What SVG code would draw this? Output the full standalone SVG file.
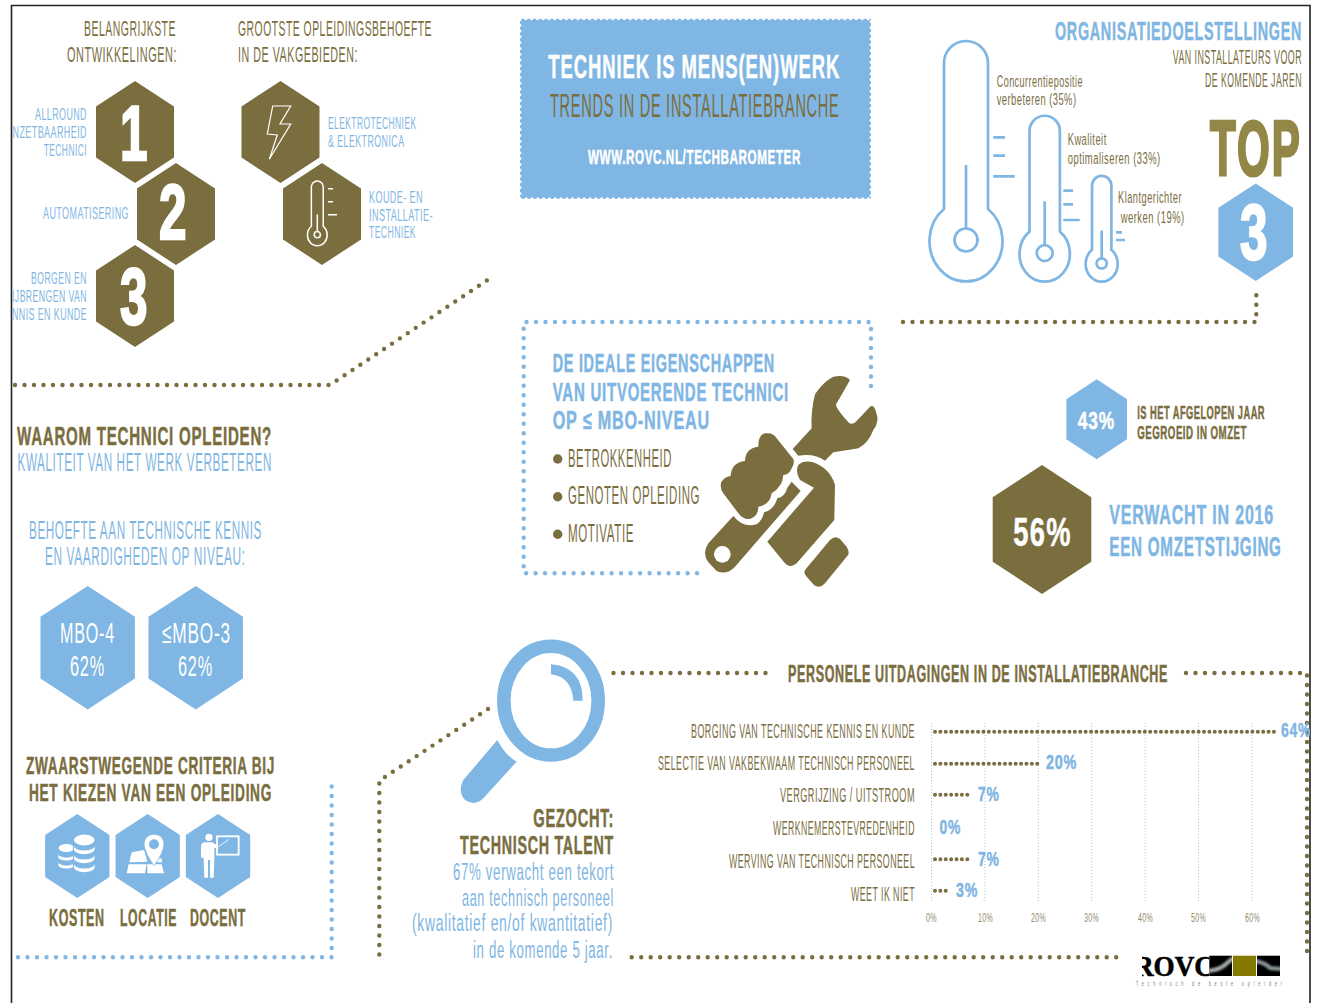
<svg xmlns="http://www.w3.org/2000/svg" width="1321" height="1003" viewBox="0 0 1321 1003">
<style>
text{font-family:"Liberation Sans",Arial,sans-serif;white-space:pre;letter-spacing:.05em}
.b{font-weight:700}
.br{fill:#7a6e3f}.bl{fill:#7fb6e3}.w{fill:#fff}
.br.b{stroke:#7a6e3f;stroke-width:.5}.bl.b{stroke:#7fb6e3;stroke-width:.5}.w.b{stroke:#fff;stroke-width:.5}
.dg{stroke-width:2.4!important}
.hb{fill:#7a6e3f}.hl{fill:#7fb6e3}
.dots{fill:none;stroke-linecap:round;stroke-width:4.4;stroke-dasharray:0 9.5}
.dbr{stroke:#7a6e3f}.dbl{stroke:#7fb6e3}
.bar{fill:none;stroke:#7a6e3f;stroke-width:4;stroke-linecap:round;stroke-dasharray:0 5.38}
.grid{stroke:#9cc8ea;stroke-width:1;stroke-dasharray:1 2;fill:none}
#therm *{vector-effect:non-scaling-stroke}
.th{fill:none;stroke:#7fb6e3;stroke-width:2.7}
.thw{fill:none;stroke:#fff;stroke-width:1.5}
.tk{stroke:#7fb6e3;stroke-width:2.7}
.tkw{stroke:#fff;stroke-width:1.5}
</style>
<defs>
<polygon id="hx" points="0,-51 39,-25.5 39,25.5 0,51 -39,25.5 -39,-25.5"/>
<g id="therm">
<path d="M-22,-36V-182A22,22 0 0 1 22,-182V-36A36.5,40.3 0 1 1 -22,-36Z"/>
<circle cx="0" cy="-5" r="11.5"/>
<path d="M0,-17V-80"/>
</g>
<path id="coin" d="M-10.3,0v3.6a10.3,4.6 0 0 0 20.6,0v-3.6a10.3,4.6 0 0 1 -20.6,0z" fill="#fff"/>
<filter id="blur" x="-20%" y="-50%" width="140%" height="200%"><feGaussianBlur stdDeviation="1"/></filter>
<clipPath id="logoclip"><rect x="1142" y="950" width="67" height="30"/></clipPath>
<clipPath id="lg1"><rect x="1209.3" y="955.7" width="22.7" height="20.3"/></clipPath>
<clipPath id="lg3"><rect x="1257" y="955.7" width="23" height="20.3"/></clipPath>
<clipPath id="frameclip"><rect x="11" y="0" width="1299" height="1003"/></clipPath>
</defs>
<rect width="1321" height="1003" fill="#fff"/>
<path id="frame" d="M11.5,1003V5.5H1310V1003" fill="none" stroke="#222" stroke-width="1.6"/>

<g id="connectors">
<path class="dots dbr" d="M15,385H330L489,279"/>
<path class="dots dbr" d="M903,322H1256.3V287"/>
<path class="dots dbl" d="M871,386V322H523.7V573.3H698"/>
<path class="dots dbl" d="M18,957.3H331.7V783"/>
<path class="dots dbr" d="M488,709L379.3,780.7V957.3"/>
<path class="dots dbr" d="M631.7,957.3H1118"/>
<path class="dots dbr" d="M613.5,673H773"/>
<path class="dots dbr" d="M1186,673H1307V957"/>
</g>

<g id="title-ontwikkelingen">
<text class="br" transform="matrix(.5 0 0 1 84 36)" font-size="22.3" textLength="184" lengthAdjust="spacingAndGlyphs">BELANGRIJKSTE</text>
<text class="br" transform="matrix(.5 0 0 1 67 62)" font-size="22.3" textLength="220" lengthAdjust="spacingAndGlyphs">ONTWIKKELINGEN:</text>
</g>
<g id="title-vakgebieden">
<text class="br" transform="matrix(.5 0 0 1 238 36)" font-size="22.3" textLength="388" lengthAdjust="spacingAndGlyphs">GROOTSTE OPLEIDINGSBEHOEFTE</text>
<text class="br" transform="matrix(.5 0 0 1 238 62)" font-size="22.3" textLength="240" lengthAdjust="spacingAndGlyphs">IN DE VAKGEBIEDEN:</text>
</g>

<g id="node-1">
<use href="#hx" class="hb" transform="translate(135,132)"/>
<text class="w b dg" transform="matrix(.5 0 0 1 120 160)" font-size="78" textLength="60" lengthAdjust="spacingAndGlyphs">1</text>
<text class="bl" transform="matrix(.5 0 0 1 35 120)" font-size="17" textLength="104" lengthAdjust="spacingAndGlyphs">ALLROUND</text>
<text class="bl" transform="matrix(.5 0 0 1 12.5 138)" font-size="17" textLength="149" lengthAdjust="spacingAndGlyphs">NZETBAARHEID</text>
<text class="bl" transform="matrix(.5 0 0 1 43.7 156)" font-size="17" textLength="86.6" lengthAdjust="spacingAndGlyphs">TECHNICI</text>
</g>
<g id="node-2">
<use href="#hx" class="hb" transform="translate(176,214)"/>
<text class="w b dg" transform="matrix(.5 0 0 1 159 239)" font-size="78" textLength="60" lengthAdjust="spacingAndGlyphs">2</text>
<text class="bl" transform="matrix(.5 0 0 1 43 219)" font-size="17" textLength="172" lengthAdjust="spacingAndGlyphs">AUTOMATISERING</text>
</g>
<g id="node-3">
<use href="#hx" class="hb" transform="translate(135,296)"/>
<text class="w b dg" transform="matrix(.5 0 0 1 120 324)" font-size="80" textLength="60" lengthAdjust="spacingAndGlyphs">3</text>
<text class="bl" transform="matrix(.5 0 0 1 31 284)" font-size="17" textLength="112" lengthAdjust="spacingAndGlyphs">BORGEN EN</text>
<text class="bl" transform="matrix(.5 0 0 1 12 302)" font-size="17" textLength="150" lengthAdjust="spacingAndGlyphs">IJBRENGEN VAN</text>
<text class="bl" transform="matrix(.5 0 0 1 12 320)" font-size="17" textLength="150" lengthAdjust="spacingAndGlyphs">NNIS EN KUNDE</text>
</g>
<g id="node-elektro">
<use href="#hx" class="hb" transform="translate(280.5,132)"/>
<polygon points="272.7,106 290.7,106 280,124 290.7,124 269.3,159.3 277.3,135 267.3,134" fill="none" stroke="#fff" stroke-width="1.2"/>
<text class="bl" transform="matrix(.5 0 0 1 328 129.4)" font-size="17" textLength="177" lengthAdjust="spacingAndGlyphs">ELEKTROTECHNIEK</text>
<text class="bl" transform="matrix(.5 0 0 1 328 147.4)" font-size="17" textLength="153" lengthAdjust="spacingAndGlyphs">&amp; ELEKTRONICA</text>
</g>
<g id="node-koude">
<use href="#hx" class="hb" transform="translate(322,214)"/>
<use href="#therm" class="thw" transform="translate(317.3,236) scale(.27)"/>
<path class="tkw" d="M328,188.7h5M328,201.7h5M328,214.7h9"/>
<text class="bl" transform="matrix(.5 0 0 1 369 202.8)" font-size="17" textLength="108" lengthAdjust="spacingAndGlyphs">KOUDE- EN</text>
<text class="bl" transform="matrix(.5 0 0 1 369 220.8)" font-size="17" textLength="128" lengthAdjust="spacingAndGlyphs">INSTALLATIE-</text>
<text class="bl" transform="matrix(.5 0 0 1 369 238.2)" font-size="17" textLength="94" lengthAdjust="spacingAndGlyphs">TECHNIEK</text>
</g>

<g id="node-banner">
<rect x="520" y="18.8" width="351" height="180" fill="#7fb6e3"/>
<rect x="520" y="18.8" width="351" height="180" fill="none" stroke="#fff" stroke-width="3" stroke-linecap="round" stroke-dasharray="0 5.8"/>
<text class="w b" transform="matrix(.5 0 0 1 548.3 78)" font-size="32.5" textLength="584" lengthAdjust="spacingAndGlyphs">TECHNIEK IS MENS(EN)WERK</text>
<text class="br" transform="matrix(.5 0 0 1 550 117)" font-size="33" textLength="579" lengthAdjust="spacingAndGlyphs">TRENDS IN DE INSTALLATIEBRANCHE</text>
<text class="w b" transform="matrix(.5 0 0 1 588 164)" font-size="20" textLength="426" lengthAdjust="spacingAndGlyphs">WWW.ROVC.NL/TECHBAROMETER</text>
</g>

<g id="node-doelstellingen">
<text class="bl b" transform="matrix(.5 0 0 1 1055 40)" font-size="26.5" textLength="494" lengthAdjust="spacingAndGlyphs">ORGANISATIEDOELSTELLINGEN</text>
<text class="br" transform="matrix(.5 0 0 1 1172.7 63.6)" font-size="20" textLength="258.6" lengthAdjust="spacingAndGlyphs">VAN INSTALLATEURS VOOR</text>
<text class="br" transform="matrix(.5 0 0 1 1205 87.2)" font-size="20" textLength="194" lengthAdjust="spacingAndGlyphs">DE KOMENDE JAREN</text>
<text class="b" fill="#938748" stroke="#938748" stroke-width="3" transform="matrix(.5 0 0 1 1210 174.5)" font-size="77" textLength="184" lengthAdjust="spacingAndGlyphs">TOP</text>
<use href="#hx" class="hl" transform="translate(1255.7,232.2) scale(.957)"/>
<text class="w b dg" transform="matrix(.5 0 0 1 1240 259)" font-size="77" textLength="60" lengthAdjust="spacingAndGlyphs">3</text>
</g>
<g id="node-thermo-1">
<use href="#therm" class="th" transform="translate(966,245)"/>
<path class="tk" d="M993.3,137.3H1005M993.3,155.7H1005M993.3,176.3H1014.7"/>
<text class="br" transform="matrix(.5 0 0 1 996.7 86.7)" font-size="17" textLength="172.6" lengthAdjust="spacingAndGlyphs">Concurrentiepositie</text>
<text class="br" transform="matrix(.5 0 0 1 996.7 105)" font-size="17" textLength="159.6" lengthAdjust="spacingAndGlyphs">verbeteren (35%)</text>
</g>
<g id="node-thermo-2">
<use href="#therm" class="th" transform="translate(1044.7,256.5) scale(.69)"/>
<path class="tk" d="M1063.3,190.7H1073M1063.3,204.3H1073M1063.3,220H1079.7"/>
<text class="br" transform="matrix(.5 0 0 1 1067.7 144.7)" font-size="17" textLength="78" lengthAdjust="spacingAndGlyphs">Kwaliteit</text>
<text class="br" transform="matrix(.5 0 0 1 1067.7 164)" font-size="17" textLength="186" lengthAdjust="spacingAndGlyphs">optimaliseren (33%)</text>
</g>
<g id="node-thermo-3">
<use href="#therm" class="th" transform="translate(1101.7,265.6) scale(.44)"/>
<path class="tk" d="M1116,232.3H1122M1116,240H1125"/>
<text class="br" transform="matrix(.5 0 0 1 1118 203)" font-size="17" textLength="128" lengthAdjust="spacingAndGlyphs">Klantgerichter</text>
<text class="br" transform="matrix(.5 0 0 1 1120.7 222.7)" font-size="17" textLength="128" lengthAdjust="spacingAndGlyphs">werken (19%)</text>
</g>

<g id="node-eigenschappen">
<text class="bl b" transform="matrix(.5 0 0 1 552.7 371.5)" font-size="25.6" textLength="444.6" lengthAdjust="spacingAndGlyphs">DE IDEALE EIGENSCHAPPEN</text>
<text class="bl b" transform="matrix(.5 0 0 1 552.7 400.5)" font-size="25.6" textLength="472.6" lengthAdjust="spacingAndGlyphs">VAN UITVOERENDE TECHNICI</text>
<text class="bl b" transform="matrix(.5 0 0 1 552.7 429)" font-size="25.6" textLength="314.6" lengthAdjust="spacingAndGlyphs">OP ≤ MBO-NIVEAU</text>
<circle class="hb" cx="557.7" cy="459" r="4.7"/><circle class="hb" cx="557.7" cy="496.7" r="4.7"/><circle class="hb" cx="557.7" cy="534.3" r="4.7"/>
<text class="br" transform="matrix(.5 0 0 1 568 466.7)" font-size="25" textLength="208" lengthAdjust="spacingAndGlyphs">BETROKKENHEID</text>
<text class="br" transform="matrix(.5 0 0 1 568 504.3)" font-size="25" textLength="264" lengthAdjust="spacingAndGlyphs">GENOTEN OPLEIDING</text>
<text class="br" transform="matrix(.5 0 0 1 568 542.3)" font-size="25" textLength="132" lengthAdjust="spacingAndGlyphs">MOTIVATIE</text>
</g>
<g id="node-wrench" transform="translate(690,365) scale(.3333)" fill="#7a6e3f">
<path d="M308,252L365,190Q362,140 375,88Q400,50 430,35Q465,28 480,45Q455,90 438,118Q438,132 478,175Q490,180 500,168L540,125Q552,118 558,140Q570,170 550,195Q535,235 505,250Q460,258 430,262L405,287Q375,265 325,272Z"/>
<path d="M130,453Q160,490 200,478Q218,465 222,442Q252,435 262,400Q285,395 292,368L305,350L332,378L135,605Q110,632 80,618L55,592Q35,565 55,535Z"/>
<circle cx="97" cy="568" r="25" fill="#fff"/>
<path d="M92,360Q92,340 122,332Q125,292 165,288Q165,250 205,245Q205,200 235,205Q250,205 260,220L310,282Q315,295 305,310Q298,330 280,330Q278,365 245,385Q240,420 205,425Q205,455 180,462Q160,465 145,445L100,385Q92,375 92,360Z"/>
<path d="M232,530L372,368L330,345Q315,320 325,300Q340,285 370,292Q420,310 435,360L433,465L320,595Q300,612 285,595Z"/>
<path d="M345,615L420,525Q435,510 450,522L470,545Q482,565 470,575L405,655Q390,672 372,660L350,635Q340,625 345,615Z"/>
</g>

<g id="node-43">
<use href="#hx" class="hl" transform="translate(1096.7,419.3) scale(.777,.784)"/>
<text class="w b" transform="matrix(.5 0 0 1 1077.7 429.3)" font-size="24.7" textLength="74.6" lengthAdjust="spacingAndGlyphs">43%</text>
<text class="br b" transform="matrix(.5 0 0 1 1137.3 419)" font-size="18" textLength="255.4" lengthAdjust="spacingAndGlyphs">IS HET AFGELOPEN JAAR</text>
<text class="br b" transform="matrix(.5 0 0 1 1137.3 439)" font-size="18" textLength="219.4" lengthAdjust="spacingAndGlyphs">GEGROEID IN OMZET</text>
</g>
<g id="node-56">
<use href="#hx" class="hb" transform="translate(1042,529.5) scale(1.264)"/>
<text class="w b" transform="matrix(.5 0 0 1 1013.3 545.7)" font-size="40" textLength="117.4" lengthAdjust="spacingAndGlyphs">56%</text>
<text class="bl b" transform="matrix(.5 0 0 1 1109.3 524.3)" font-size="27" textLength="329.4" lengthAdjust="spacingAndGlyphs">VERWACHT IN 2016</text>
<text class="bl b" transform="matrix(.5 0 0 1 1109.3 555.7)" font-size="27" textLength="344.8" lengthAdjust="spacingAndGlyphs">EEN OMZETSTIJGING</text>
</g>

<g id="node-waarom">
<text class="br b" transform="matrix(.5 0 0 1 17 445)" font-size="26.5" textLength="510" lengthAdjust="spacingAndGlyphs">WAAROM TECHNICI OPLEIDEN?</text>
<text class="bl" transform="matrix(.5 0 0 1 17.5 471)" font-size="26" textLength="509" lengthAdjust="spacingAndGlyphs">KWALITEIT VAN HET WERK VERBETEREN</text>
<text class="bl" transform="matrix(.5 0 0 1 29 539.4)" font-size="26" textLength="466" lengthAdjust="spacingAndGlyphs">BEHOEFTE AAN TECHNISCHE KENNIS</text>
<text class="bl" transform="matrix(.5 0 0 1 45 565)" font-size="26" textLength="401" lengthAdjust="spacingAndGlyphs">EN VAARDIGHEDEN OP NIVEAU:</text>
</g>
<g id="node-mbo4">
<use href="#hx" class="hl" transform="translate(87.7,647.7) scale(1.21)"/>
<text class="w" transform="matrix(.5 0 0 1 60 643)" font-size="29" textLength="110" lengthAdjust="spacingAndGlyphs">MBO-4</text>
<text class="w" transform="matrix(.5 0 0 1 70 676)" font-size="29" textLength="70" lengthAdjust="spacingAndGlyphs">62%</text>
</g>
<g id="node-mbo3">
<use href="#hx" class="hl" transform="translate(195.7,647.7) scale(1.21)"/>
<text class="w" transform="matrix(.5 0 0 1 162 643)" font-size="29" textLength="138" lengthAdjust="spacingAndGlyphs">≤MBO-3</text>
<text class="w" transform="matrix(.5 0 0 1 178 676)" font-size="29" textLength="70" lengthAdjust="spacingAndGlyphs">62%</text>
</g>

<g id="node-criteria">
<text class="br b" transform="matrix(.5 0 0 1 26 774.3)" font-size="24" textLength="498" lengthAdjust="spacingAndGlyphs">ZWAARSTWEGENDE CRITERIA BIJ</text>
<text class="br b" transform="matrix(.5 0 0 1 29 800.7)" font-size="24" textLength="486" lengthAdjust="spacingAndGlyphs">HET KIEZEN VAN EEN OPLEIDING</text>
</g>
<g id="node-kosten">
<use href="#hx" class="hl" transform="translate(77.3,856) scale(.825)"/>
<g transform="translate(66.5,0)">
<ellipse cx="0" cy="848" rx="8" ry="4" fill="#fff"/>
<use href="#coin" transform="translate(0,854) scale(.8)"/>
<use href="#coin" transform="translate(0,862) scale(.8)"/>
</g>
<g transform="translate(84.3,0)">
<ellipse cx="0" cy="840" rx="11.6" ry="6.4" fill="#7fb6e3"/>
<rect x="-11.4" y="840" width="22.8" height="36" fill="#7fb6e3"/>
<ellipse cx="0" cy="840" rx="10.3" ry="5.4" fill="#fff"/>
<use href="#coin" transform="translate(0,846)"/>
<use href="#coin" transform="translate(0,855)"/>
<use href="#coin" transform="translate(0,864)"/>
</g>
<text class="br b" transform="matrix(.5 0 0 1 49 925.7)" font-size="24" textLength="111.4" lengthAdjust="spacingAndGlyphs">KOSTEN</text>
</g>
<g id="node-locatie">
<use href="#hx" class="hl" transform="translate(147.7,856) scale(.825)"/>
<g transform="translate(30,805) scale(.3333)" fill="#fff">
<polygon points="305,142 342,135 352,170 298,172"/>
<polygon points="296,178 350,178 345,205 290,205"/>
<polygon points="352,178 395,178 402,205 352,205"/>
<polygon points="388,160 394,160 397,172 380,172"/>
<path d="M372,182Q345,145 342,118Q345,88 372,88Q400,88 402,118Q400,145 372,182Z" stroke="#7fb6e3" stroke-width="2"/>
<circle cx="372" cy="118" r="15" fill="#7fb6e3"/>
</g>
<text class="br b" transform="matrix(.5 0 0 1 120 925.7)" font-size="24" textLength="114" lengthAdjust="spacingAndGlyphs">LOCATIE</text>
</g>
<g id="node-docent">
<use href="#hx" class="hl" transform="translate(218,856) scale(.825)"/>
<g transform="translate(30,805) scale(.3333)" fill="#fff">
<circle cx="537" cy="97" r="11"/>
<path d="M513,158V125Q513,112 525,112H546L564,122L560,131L553,128V165L551,218H540V165H534V218H523L521,165V158Z"/>
<rect x="561" y="94" width="65" height="55" fill="none" stroke="#fff" stroke-width="5.5"/>
<path d="M565,125L597,103" stroke="#fff" stroke-width="2.5"/>
</g>
<text class="br b" transform="matrix(.5 0 0 1 190 925.7)" font-size="24" textLength="112" lengthAdjust="spacingAndGlyphs">DOCENT</text>
</g>

<g id="node-talent">
<ellipse cx="551" cy="700.7" rx="47.2" ry="54.4" fill="none" stroke="#7fb6e3" stroke-width="13.5"/>
<g transform="translate(370,630) scale(.3333)" fill="#7fb6e3">
<path d="M543,103Q638,110 638,212H610Q605,140 543,133Z"/>
<path d="M382,330Q405,375 440,395L340,505Q315,530 285,510Q262,485 280,450Z"/>
</g>
<text class="br b" transform="matrix(.5 0 0 1 533.3 826.7)" font-size="26" textLength="161.4" lengthAdjust="spacingAndGlyphs">GEZOCHT:</text>
<text class="br b" transform="matrix(.5 0 0 1 460 854)" font-size="26" textLength="308" lengthAdjust="spacingAndGlyphs">TECHNISCH TALENT</text>
<text class="bl" transform="matrix(.5 0 0 1 453 880)" font-size="24" textLength="322" lengthAdjust="spacingAndGlyphs">67% verwacht een tekort</text>
<text class="bl" transform="matrix(.5 0 0 1 462 906)" font-size="24" textLength="304" lengthAdjust="spacingAndGlyphs">aan technisch personeel</text>
<text class="bl" transform="matrix(.5 0 0 1 412 931)" font-size="24" textLength="402" lengthAdjust="spacingAndGlyphs">(kwalitatief en/of kwantitatief)</text>
<text class="bl" transform="matrix(.5 0 0 1 473 958)" font-size="24" textLength="280" lengthAdjust="spacingAndGlyphs">in de komende 5 jaar.</text>
</g>

<g id="node-chart">
<text class="br b" transform="matrix(.5 0 0 1 788 682)" font-size="23" textLength="760" lengthAdjust="spacingAndGlyphs">PERSONELE UITDAGINGEN IN DE INSTALLATIEBRANCHE</text>
<path class="grid" d="M931.5,723V901M984.9,723V901M1038.3,723V901M1091.7,723V901M1145.1,723V901M1198.5,723V901M1251.9,723V901"/>
<path class="bar" d="M935,731.7H1275"/>
<path class="bar" d="M935,763.7H1038"/>
<path class="bar" d="M935,794.7H969"/>
<path class="bar" d="M935,859.3H969"/>
<path class="bar" d="M935,890.7H947"/>
<g font-size="20" class="br">
<text transform="matrix(.5 0 0 1 691 738)" textLength="448" lengthAdjust="spacingAndGlyphs">BORGING VAN TECHNISCHE KENNIS EN KUNDE</text>
<text transform="matrix(.5 0 0 1 658 770)" textLength="514" lengthAdjust="spacingAndGlyphs">SELECTIE VAN VAKBEKWAAM TECHNISCH PERSONEEL</text>
<text transform="matrix(.5 0 0 1 780 802.2)" textLength="270" lengthAdjust="spacingAndGlyphs">VERGRIJZING / UITSTROOM</text>
<text transform="matrix(.5 0 0 1 773 835)" textLength="284" lengthAdjust="spacingAndGlyphs">WERKNEMERSTEVREDENHEID</text>
<text transform="matrix(.5 0 0 1 729 868)" textLength="372" lengthAdjust="spacingAndGlyphs">WERVING VAN TECHNISCH PERSONEEL</text>
<text transform="matrix(.5 0 0 1 851 900.5)" textLength="128" lengthAdjust="spacingAndGlyphs">WEET IK NIET</text>
</g>
<g font-size="19.5" class="bl b">
<g clip-path="url(#frameclip)"><text class="bl b" transform="matrix(.5 0 0 1 1281 737.3)" textLength="60" lengthAdjust="spacingAndGlyphs">64%</text></g>
<text class="bl b" transform="matrix(.5 0 0 1 1046 769.3)" textLength="62" lengthAdjust="spacingAndGlyphs">20%</text>
<text class="bl b" transform="matrix(.5 0 0 1 978 800.7)" textLength="43" lengthAdjust="spacingAndGlyphs">7%</text>
<text class="bl b" transform="matrix(.5 0 0 1 939.5 834.3)" textLength="43" lengthAdjust="spacingAndGlyphs">0%</text>
<text class="bl b" transform="matrix(.5 0 0 1 978 865.7)" textLength="43" lengthAdjust="spacingAndGlyphs">7%</text>
<text class="bl b" transform="matrix(.5 0 0 1 956 896.7)" textLength="44" lengthAdjust="spacingAndGlyphs">3%</text>
</g>
<g font-size="12" fill="#8f8a6c">
<text transform="matrix(.5 0 0 1 926 921.7)" textLength="22" lengthAdjust="spacingAndGlyphs">0%</text>
<text transform="matrix(.5 0 0 1 978 921.7)" textLength="30" lengthAdjust="spacingAndGlyphs">10%</text>
<text transform="matrix(.5 0 0 1 1031 921.7)" textLength="30" lengthAdjust="spacingAndGlyphs">20%</text>
<text transform="matrix(.5 0 0 1 1084 921.7)" textLength="30" lengthAdjust="spacingAndGlyphs">30%</text>
<text transform="matrix(.5 0 0 1 1138 921.7)" textLength="30" lengthAdjust="spacingAndGlyphs">40%</text>
<text transform="matrix(.5 0 0 1 1191 921.7)" textLength="30" lengthAdjust="spacingAndGlyphs">50%</text>
<text transform="matrix(.5 0 0 1 1245 921.7)" textLength="30" lengthAdjust="spacingAndGlyphs">60%</text>
</g>
</g>

<g id="node-logo">
<g clip-path="url(#logoclip)"><text x="1134" y="976" font-size="29" fill="#000" stroke="#000" stroke-width=".6" style="font-family:'Liberation Serif',serif;font-weight:700;letter-spacing:0" textLength="80" lengthAdjust="spacingAndGlyphs">ROVC</text></g>
<rect x="1209.3" y="955.7" width="22.7" height="20.3" fill="#000"/>
<g clip-path="url(#lg1)"><path d="M1207,971Q1220,970 1226,964L1233,958" fill="none" stroke="#a9aeb0" stroke-width="4" filter="url(#blur)"/></g>
<rect x="1233" y="955.7" width="23" height="20.3" fill="#857a00"/>
<rect x="1257" y="955.7" width="23" height="20.3" fill="#000"/>
<g clip-path="url(#lg3)"><path d="M1255,961Q1266,963 1270,968L1282,969" fill="none" stroke="#8f979b" stroke-width="4" filter="url(#blur)"/></g>
<text transform="matrix(.5 0 0 1 1136 986)" font-size="7.5" fill="#777" textLength="292" lengthAdjust="spacing" style="letter-spacing:0">Technisch de beste opleider</text>
</g>
</svg>
